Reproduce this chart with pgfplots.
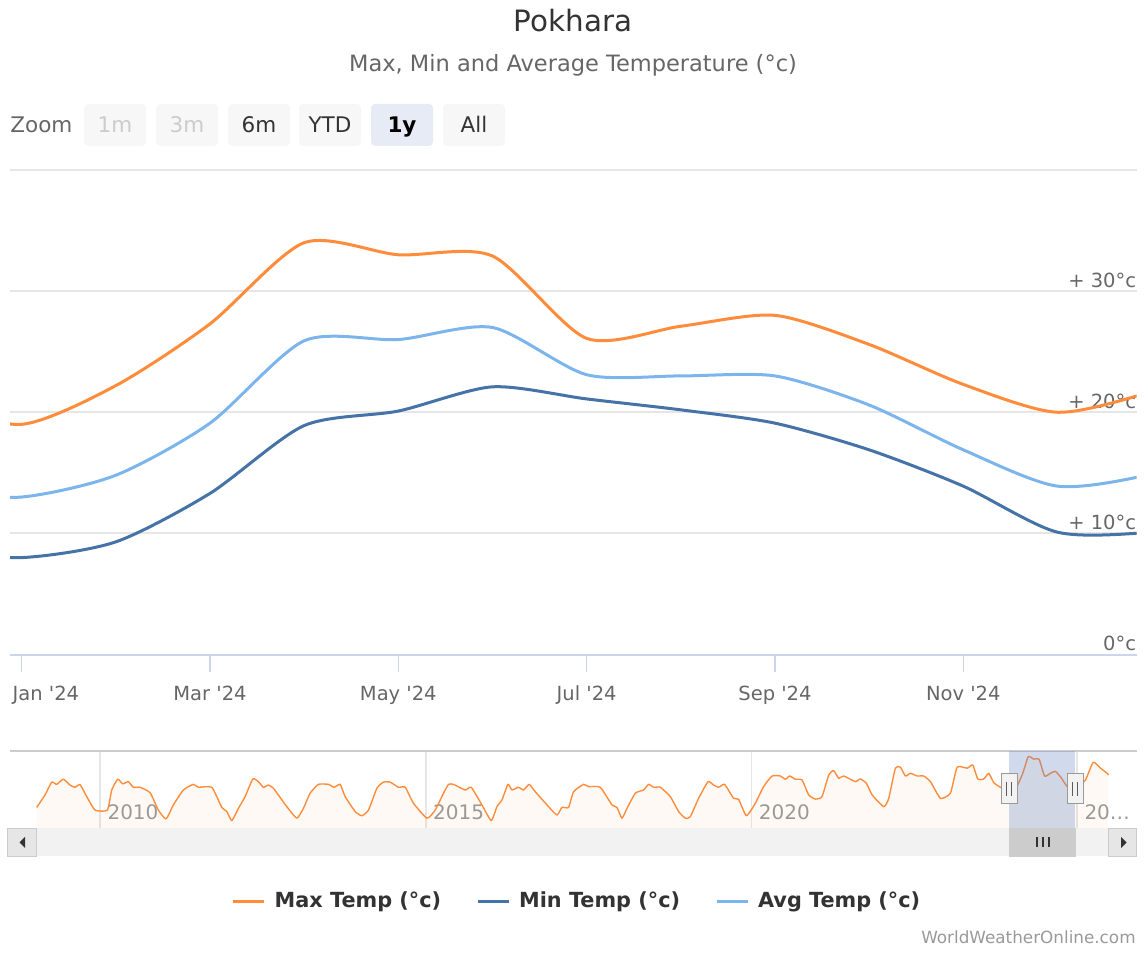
\documentclass[border=0pt]{standalone}
\usepackage{pgfplots}
\pgfplotsset{compat=1.18}
\usepackage{pgfplotstable}
\usepackage{fontspec}
\setmainfont{DejaVu Sans}
\newcommand\fs[1]{\fontsize{#1}{#1}\selectfont}
\definecolor{cmax}{HTML}{FF8C3A}
\definecolor{cmin}{HTML}{4572A7}
\definecolor{cavg}{HTML}{7CB5EC}
\definecolor{gridc}{HTML}{E6E6E6}
\definecolor{axc}{HTML}{CCD6EB}
\definecolor{labc}{HTML}{666666}
\definecolor{titc}{HTML}{333333}
\definecolor{c999}{HTML}{999999}
\definecolor{cccc}{HTML}{CCCCCC}
\definecolor{maskc}{RGB}{102,133,194}
\definecolor{btn}{HTML}{F7F7F7}
\definecolor{btnsel}{HTML}{E6EBF5}
\definecolor{track}{HTML}{F2F2F2}
\definecolor{sbtn}{HTML}{E6E6E6}

% month index: 0 = Jan 2024
\pgfplotstableread{
m maxt mint avgt
-1 20.8 8.6 13.4
0 19.0 8.0 13.0
1 22.2 9.3 14.8
2 27.3 13.3 19.1
3 34.0 18.9 25.9
4 33.0 20.1 26.0
5 32.9 22.1 27.0
6 26.1 21.1 23.1
7 27.1 20.2 23.0
8 28.0 19.1 23.0
9 25.6 16.9 20.6
10 22.3 13.9 16.9
11 20.0 10.1 13.9
12 21.7 10.1 14.9
13 24.5 11.2 17.5
}\monthly

% navigator series (Max Temp)
\pgfplotstableread{
yr t
2009.026 13.3
2009.154 18.4
2009.257 23.6
2009.333 22.7
2009.435 24.8
2009.538 22.4
2009.614 21.5
2009.691 22.6
2009.794 17.7
2009.922 12.2
2010.111 12.2
2010.178 20.4
2010.270 24.8
2010.347 22.9
2010.433 23.8
2010.510 21.5
2010.613 21.5
2010.767 19.3
2010.894 12.2
2011.012 8.6
2011.124 14.3
2011.278 20.4
2011.432 22.7
2011.508 21.5
2011.714 21.5
2011.868 13.3
2011.945 11.6
2012.022 7.9
2012.123 12.9
2012.226 17.7
2012.344 24.9
2012.430 23.8
2012.507 21.5
2012.584 22.4
2012.660 21.1
2012.866 13.6
2013.020 8.9
2013.121 12.9
2013.224 19.1
2013.352 22.7
2013.505 22.7
2013.593 21.5
2013.685 22.7
2013.762 17.7
2013.916 11.6
2014.018 9.9
2014.120 12.2
2014.249 21.1
2014.350 23.6
2014.453 23.6
2014.581 21.5
2014.684 21.5
2014.811 15.0
2015.017 8.9
2015.144 12.2
2015.272 19.1
2015.349 22.7
2015.425 22.7
2015.605 20.4
2015.697 21.5
2015.862 14.3
2016.005 7.9
2016.092 13.6
2016.169 16.3
2016.261 22.7
2016.323 20.4
2016.424 21.5
2016.501 20.4
2016.588 22.7
2016.680 19.7
2016.885 13.6
2017.014 10.2
2017.091 13.3
2017.192 13.3
2017.269 19.7
2017.422 22.7
2017.499 21.8
2017.679 21.5
2017.859 14.3
2017.935 13.3
2018.012 8.9
2018.089 12.9
2018.217 19.1
2018.344 20.4
2018.421 22.7
2018.498 21.5
2018.601 21.5
2018.754 17.7
2018.882 11.6
2018.985 8.9
2019.061 9.5
2019.189 17.0
2019.333 23.8
2019.419 22.4
2019.496 21.5
2019.588 22.7
2019.726 17.0
2019.803 16.6
2019.922 9.9
2020.060 15.0
2020.187 21.8
2020.317 26.1
2020.444 26.1
2020.521 24.8
2020.587 26.1
2020.674 24.8
2020.777 24.5
2020.879 18.4
2020.982 16.7
2021.084 17.7
2021.186 26.5
2021.262 28.3
2021.339 25.2
2021.416 26.1
2021.596 23.8
2021.673 24.9
2021.765 23.1
2021.853 18.4
2022.031 13.6
2022.108 17.0
2022.210 29.3
2022.287 29.7
2022.364 26.1
2022.441 27.2
2022.544 26.1
2022.645 26.1
2022.748 23.8
2022.902 17.0
2023.055 19.1
2023.158 29.7
2023.312 29.3
2023.398 30.6
2023.475 24.9
2023.567 24.9
2023.644 27.2
2023.720 23.4
2023.823 21.5
2024.000 19.0
2024.083 22.2
2024.167 27.3
2024.250 34.0
2024.333 33.0
2024.417 32.9
2024.500 26.1
2024.583 27.1
2024.667 28.0
2024.750 25.6
2024.833 22.3
2024.917 20.0
2025.000 21.7
2025.129 24.5
2025.247 31.7
2025.359 29.3
2025.462 27.2
2025.482 26.5
}\nav

\begin{document}
\begin{tikzpicture}
\path[use as bounding box] (0,0) rectangle (574pt,477.5pt);

% ---------------- main chart ----------------
\begin{axis}[
  at={(5pt,150.25pt)}, anchor=south west,
  scale only axis, width=563.25pt, height=242.25pt,
  xmin=-0.124, xmax=11.84, ymin=0, ymax=40,
  axis x line*=bottom, axis y line*=right,
  x axis line style={draw=axc, line width=1pt, -},
  y axis line style={draw=none},
  xtick={0,2,4,6,8,10},
  xticklabels={{\makebox[0pt][l]{\hspace*{-4.5pt}Jan \textquotesingle 24}},{Mar \textquotesingle 24},{May \textquotesingle 24},{Jul \textquotesingle 24},{Sep \textquotesingle 24},{Nov \textquotesingle 24}},
  xtick align=outside,
  major tick length=8.5pt,
  xtick style={draw=axc, line width=0.6pt},
  xticklabel style={anchor=base, yshift=-14.45pt, font=\fs{9.75}, text=labc},
  ytick={0,10,20,30,40},
  yticklabels={0°c,+ 10°c,+ 20°c,+ 30°c,{}},
  ytick style={draw=none},
  yticklabel style={anchor=base east, inner sep=0pt, yshift=2pt, font=\fs{9.75}, text=labc},
  ymajorgrids, grid style={draw=gridc, line width=1pt},
  legend style={at={(0.5024,-0.510)}, anchor=center, draw=none, fill=none,
    legend columns=3, font=\bfseries\fs{10.4}, text=titc,
    nodes={inner sep=0pt},
    /tikz/every odd column/.append style={column sep=4.5pt},
    /tikz/every even column/.append style={column sep=17.5pt}},
  legend cell align=left,
  legend image code/.code={\draw[#1] (0pt,0pt) -- (15.5pt,0pt);},
]
\addplot[cmax, line width=1.5pt, line join=round, smooth, tension=0.45] table[x=m, y=maxt]{\monthly};
\addlegendentry{Max Temp (°c)}
\addplot[cmin, line width=1.5pt, line join=round, smooth, tension=0.45] table[x=m, y=mint]{\monthly};
\addlegendentry{Min Temp (°c)}
\addplot[cavg, line width=1.5pt, line join=round, smooth, tension=0.45] table[x=m, y=avgt]{\monthly};
\addlegendentry{Avg Temp (°c)}
\end{axis}

% ---------------- navigator ----------------
\begin{axis}[
  at={(5pt,63.5pt)}, anchor=south west,
  scale only axis, width=563.25pt, height=38.5pt,
  xmin=2008.616, xmax=2025.912, ymin=4.9, ymax=36.3,
  axis x line*=bottom, x axis line style={draw=none},
  hide y axis,
  xtick={2010,2015,2020,2025},
  xticklabels={2010,2015,2020,20…},
  xtick style={draw=none},
  xmajorgrids, grid style={draw=gridc, line width=0.75pt},
  xticklabel style={anchor=base west, xshift=3.5pt, yshift=4pt, inner sep=0pt, text=c999, font=\fs{10}},
]
\addplot[draw=none, fill=cmax, fill opacity=0.05] table[x=yr, y=t]{\nav} \closedcycle;
\addplot[cmax, line width=0.7pt, line join=round, smooth, tension=0.3] table[x=yr, y=t]{\nav};
\end{axis}

% ---------------- decorations (pixel coordinates) ----------------
\begin{scope}[x=0.5pt, y=-0.5pt, shift={(0pt,477.5pt)}]
  % title & subtitle
  \node[anchor=base, inner sep=0pt, text=titc, font=\fs{14.7}] at (573,31.7) {Pokhara};
  \node[anchor=base, inner sep=0pt, text=labc, font=\fs{11.25}] at (573,72) {Max, Min and Average Temperature (°c)};
  % range selector
  \node[anchor=base west, inner sep=0pt, text=labc, font=\fs{10.75}] at (10,132.7) {Zoom};
  \foreach \xa/\lab/\col in {84/1m/cccc,156/3m/cccc,228/6m/titc,299/YTD/titc,443/All/titc}{
    \fill[btn, rounded corners=2pt] (\xa,104) rectangle ++(62,42);
    \node[anchor=base, inner sep=0pt, text=\col, font=\fs{10.75}] at (\xa+31,132.7) {\lab};
  }
  \fill[btnsel, rounded corners=2pt] (371,104) rectangle ++(62,42);
  \node[anchor=base, inner sep=0pt, text=black, font=\bfseries\fs{10.75}] at (402,132.7) {1y};
  % navigator outline
  \draw[cccc, line width=0.85pt] (10,751) -- (1136.5,751);
  % navigator mask
  \fill[maskc, fill opacity=0.3] (1009.3,751.5) rectangle (1075.3,828);
  % handles
  \foreach \hx in {1009,1075}{
    \filldraw[fill=track, draw=c999, line width=0.5pt] (\hx-8,774) rectangle (\hx+8,804);
    \draw[titc!80, line width=0.6pt] (\hx-2.5,782) -- (\hx-2.5,796);
    \draw[titc!80, line width=0.6pt] (\hx+2.5,782) -- (\hx+2.5,796);
  }
  % scrollbar
  \fill[track] (36,828) rectangle (1108,856.5);
  \filldraw[fill=sbtn, draw=cccc, line width=0.5pt] (7.5,828.3) rectangle (36,856.5);
  \filldraw[fill=sbtn, draw=cccc, line width=0.5pt] (1108,828.3) rectangle (1136.5,856.5);
  \fill[titc] (19.5,842.5) -- (25,837) -- (25,848) -- cycle;
  \fill[titc] (1121,837) -- (1126.5,842.5) -- (1121,848) -- cycle;
  \filldraw[fill=cccc, draw=cccc, line width=0.5pt] (1009.3,828.3) rectangle (1075.3,856.5);
  \foreach \lx in {1036.7,1042.7,1048.7}{
    \draw[titc, line width=1pt] (\lx,837) -- (\lx,847.3);
  }
  % credits
  \node[anchor=base east, inner sep=0pt, text=c999, font=\fs{8.4}] at (1136,943.3) {WorldWeatherOnline.com};
\end{scope}
\end{tikzpicture}
\end{document}
